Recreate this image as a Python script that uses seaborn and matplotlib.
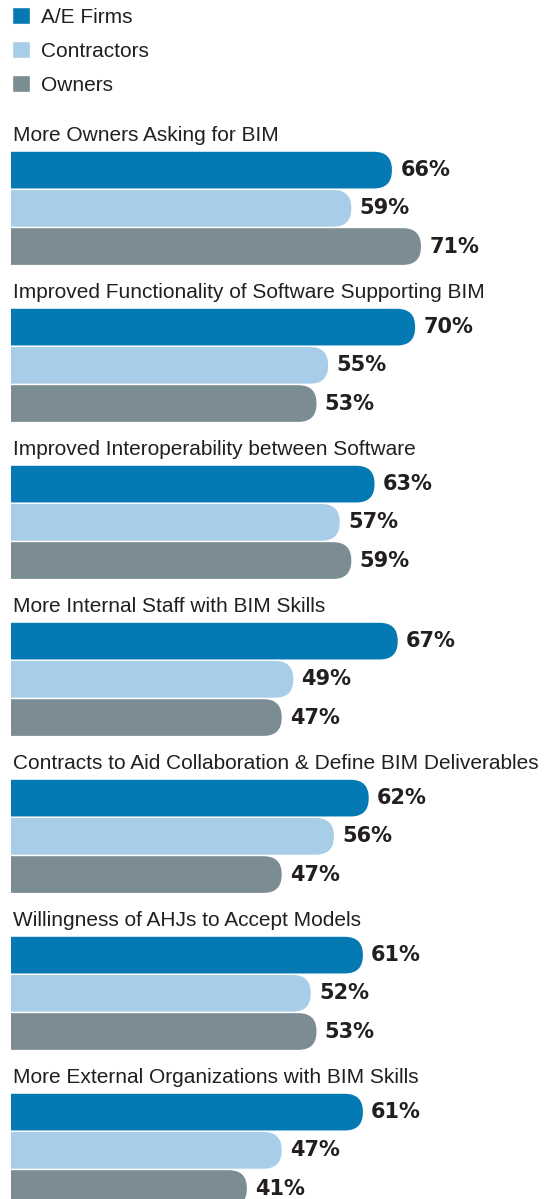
import pandas as pd
import matplotlib
matplotlib.use("Agg")
import matplotlib.pyplot as plt
from matplotlib.patches import FancyBboxPatch
import seaborn as sns

# data
factors = [
    "More Owners Asking for BIM",
    "Improved Functionality of Software Supporting BIM",
    "Improved Interoperability between Software",
    "More Internal Staff with BIM Skills",
    "Contracts to Aid Collaboration & Define BIM Deliverables",
    "Willingness of AHJs to Accept Models",
    "More External Organizations with BIM Skills",
]
groups = ["A/E Firms", "Contractors", "Owners"]
ae_firms = [66, 70, 63, 67, 62, 61, 61]
contractors = [59, 55, 57, 49, 56, 52, 47]
owners = [71, 53, 59, 47, 47, 53, 41]
colors = ["#0479b4", "#a7cde8", "#7b8c92"]
text_color = "#231f20"

df = pd.DataFrame({
    "factor": factors * 3,
    "group": [g for g in groups for _ in factors],
    "pct": ae_firms + contractors + owners,
})

sns.set_style("white")
plt.rcParams["font.family"] = ["Liberation Sans", "DejaVu Sans"]

W, H = 548, 1199
fig = plt.figure(figsize=(W / 100, H / 100), dpi=100)
left_px = 11
ax = fig.add_axes([left_px / W, 0, 1 - left_px / W, 1])

sns.barplot(data=df, x="pct", y="factor", hue="group", orient="h",
            palette=colors, saturation=1, width=0.73, gap=0.04, ax=ax)

xlim = (0.35, 92.9)
ylim = (6.31, -1.327)
ax.set_xlim(*xlim)
ax.set_ylim(*ylim)
ax.axis("off")

# value labels
for cont in ax.containers:
    ax.bar_label(cont, fmt="{:.0f}%", padding=6, fontsize=15,
                 fontweight="bold", family="DejaVu Sans", color=text_color)

# rounded right ends
px_x = (W - left_px) / (xlim[1] - xlim[0])
px_y = H / abs(ylim[0] - ylim[1])
aspect = px_x / px_y
radius = 18 / px_x
for p in list(ax.patches):
    x, y, w, h = p.get_x(), p.get_y(), p.get_width(), p.get_height()
    fc = p.get_facecolor()
    p.remove()
    ax.add_patch(FancyBboxPatch((x - 6, y), w + 6, h,
                                boxstyle=f"round,pad=0,rounding_size={radius}",
                                mutation_aspect=aspect, fc=fc, ec="none", lw=0))

# group titles
half = 0.73 / 2
for i, name in enumerate(factors):
    ax.text(0.003, i - half - 10 / px_y, name, transform=ax.get_yaxis_transform(),
            ha="left", va="baseline", fontsize=15, color=text_color)

sns.move_legend(ax, "upper left", bbox_to_anchor=(12 / W, 1 - 7 / H),
                bbox_transform=fig.transFigure, frameon=False, title=None,
                fontsize=15, handlelength=0.87, handleheight=0.87,
                handletextpad=0.5, labelspacing=0.7, borderpad=0,
                borderaxespad=0)
for t in ax.get_legend().get_texts():
    t.set_color(text_color)

fig.savefig("out.png", dpi=100)
